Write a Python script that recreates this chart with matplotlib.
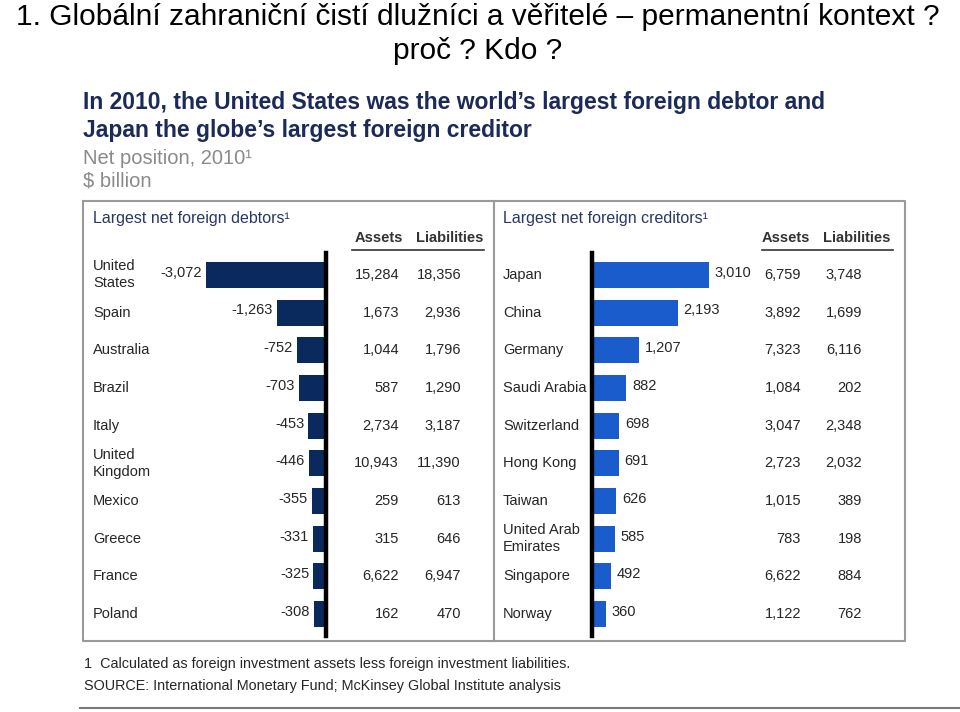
import matplotlib
matplotlib.use("Agg")
import matplotlib.pyplot as plt
import matplotlib.transforms as mtransforms

# Data (net position 2010, $ billion)
debtors = ["United\nStates", "Spain", "Australia", "Brazil", "Italy",
           "United\nKingdom", "Mexico", "Greece", "France", "Poland"]
debtor_net = [-3072, -1263, -752, -703, -453, -446, -355, -331, -325, -308]
debtor_assets = ["15,284", "1,673", "1,044", "587", "2,734", "10,943", "259", "315", "6,622", "162"]
debtor_liab = ["18,356", "2,936", "1,796", "1,290", "3,187", "11,390", "613", "646", "6,947", "470"]

creditors = ["Japan", "China", "Germany", "Saudi Arabia", "Switzerland",
             "Hong Kong", "Taiwan", "United Arab\nEmirates", "Singapore", "Norway"]
creditor_net = [3010, 2193, 1207, 882, 698, 691, 626, 585, 492, 360]
creditor_assets = ["6,759", "3,892", "7,323", "1,084", "3,047", "2,723", "1,015", "783", "6,622", "1,122"]
creditor_liab = ["3,748", "1,699", "6,116", "202", "2,348", "2,032", "389", "198", "884", "762"]

plt.rcParams["font.family"] = ["Liberation Sans", "DejaVu Sans"]

W, H = 960, 712
fig = plt.figure(figsize=(W / 100, H / 100), dpi=100)

# background axes in pixel units for layout text
bg = fig.add_axes([0, 0, 1, 1])
bg.set_xlim(0, W)
bg.set_ylim(H, 0)
bg.axis("off")

navy_txt = "#1b2a57"
grey_txt = "#8a8a8a"
dark = "#262626"

# slide title
bg.text(478, 17, "1. Globální zahraniční čistí dlužníci a věřitelé – permanentní kontext ?",
        ha="center", va="center", fontsize=21.5, color="black")
bg.text(478, 51, "proč ? Kdo ?", ha="center", va="center", fontsize=21.5, color="black")

# chart headline
bg.text(83, 102, "In 2010, the United States was the world’s largest foreign debtor and",
        ha="left", va="center", fontsize=16.5, fontweight="bold", color=navy_txt)
bg.text(83, 130, "Japan the globe’s largest foreign creditor",
        ha="left", va="center", fontsize=16.5, fontweight="bold", color=navy_txt)
bg.text(83, 158, "Net position, 2010¹", ha="left", va="center", fontsize=14.5, color=grey_txt)
bg.text(83, 181, "$ billion", ha="left", va="center", fontsize=14.5, color=grey_txt)

# frame
frame_c = "#9a9a9a"
bg.plot([83, 905, 905, 83, 83], [201, 201, 641, 641, 201], color=frame_c, lw=1.5)
bg.plot([494, 494], [201, 641], color=frame_c, lw=1.5)

# footnotes
bg.text(84, 664, "1  Calculated as foreign investment assets less foreign investment liabilities.",
        ha="left", va="center", fontsize=10.4, color=dark)
bg.text(84, 686, "SOURCE: International Monetary Fund; McKinsey Global Institute analysis",
        ha="left", va="center", fontsize=10.4, color=dark)
bg.plot([80, 960], [708, 708], color="#7a7a7a", lw=1.5)

scale = 0.039  # px per $bn
row_top, row_bot = 256, 633


def panel(x0, x1, zero_px, title, labels, net, assets, liab, color, label_x,
          col_a, col_l, hdr_a, hdr_l, line_x):
    ax = fig.add_axes([x0 / W, 1 - row_bot / H, (x1 - x0) / W, (row_bot - row_top) / H])
    ax.set_xlim(-(zero_px - x0) / scale, (x1 - zero_px) / scale)
    ax.set_ylim(len(labels) - 0.5, -0.5)
    ax.axis("off")
    ypos = list(range(len(labels)))
    ax.barh(ypos, net, height=0.69, color=color, zorder=2)
    ax.axvline(0, ymin=-0.008, ymax=1.008, color="black", lw=3.2, zorder=3, clip_on=False)

    tr = mtransforms.blended_transform_factory(bg.transData, ax.transData)
    for i, v in enumerate(net):
        if v < 0:
            ax.annotate(f"{v:,}", (v, i), xytext=(-3, 1.5), textcoords="offset points",
                        ha="right", va="center", fontsize=10.5, color=dark)
        else:
            ax.annotate(f"{v:,}", (v, i), xytext=(4, 1.5), textcoords="offset points",
                        ha="left", va="center", fontsize=10.5, color=dark)
        ax.text(label_x, i, labels[i], transform=tr, ha="left", va="center",
                fontsize=10.5, color=dark, linespacing=1.3)
        ax.text(col_a, i, assets[i], transform=tr, ha="right", va="center",
                fontsize=10.5, color=dark)
        ax.text(col_l, i, liab[i], transform=tr, ha="right", va="center",
                fontsize=10.5, color=dark)

    bg.text(label_x, 219, title, ha="left", va="center", fontsize=11.5, color="#2a3766")
    bg.text(hdr_a, 238, "Assets", ha="center", va="center", fontsize=10.5,
            fontweight="bold", color="#333333")
    bg.text(hdr_l, 238, "Liabilities", ha="center", va="center", fontsize=10.5,
            fontweight="bold", color="#333333")
    bg.plot(line_x, [250, 250], color="#333333", lw=1.2)
    return ax


panel(83, 490, 326, "Largest net foreign debtors¹", debtors, debtor_net,
      debtor_assets, debtor_liab, "#0a2a5e", 93, 399, 461, 379, 450, [352, 484])
panel(497, 900, 592, "Largest net foreign creditors¹", creditors, creditor_net,
      creditor_assets, creditor_liab, "#1a5ccc", 503, 801, 862, 786, 857, [762, 893])

fig.savefig("out.png", dpi=100)
